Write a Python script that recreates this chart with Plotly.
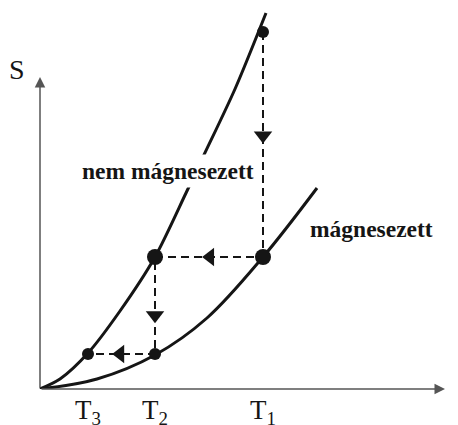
import plotly.graph_objects as go

# --- data (T, S in arbitrary diagram units) ---
T_levels = [48, 115, 223]                 # T3, T2, T1
tick_labels = ["T<sub>3</sub>", "T<sub>2</sub>", "T<sub>1</sub>"]

# "nem mágnesezett" (non-magnetised) curve
T_upper = [0, 20, 48, 80, 115, 146, 163, 195, 226]
S_upper = [0, 10, 36, 78, 132, 196, 232, 300, 376]

# "mágnesezett" (magnetised) curve
T_lower = [0, 57, 115, 167, 223, 277]
S_lower = [0, 10, 34, 71, 132, 201]

# cycle states A->B->C->D->E
T_cycle = [223, 223, 115, 115, 48]
S_cycle = [357, 132, 132, 35, 35]
dot_sizes = [12, 16, 16, 12, 12]
arrow_frac = [0.46, 0.49, 0.60, 0.52]
arrow_symbols = ["triangle-down", "triangle-left", "triangle-down", "triangle-left"]

S_axis_top = 312
T_axis_end = 405

INK = "#151515"
SERIF = "Liberation Serif, Times New Roman, serif"

fig = go.Figure()

fig.add_trace(go.Scatter(x=T_upper, y=S_upper, mode="lines",
                         line=dict(color=INK, width=3, shape="spline", smoothing=0.8),
                         hoverinfo="skip", showlegend=False))
fig.add_trace(go.Scatter(x=T_lower, y=S_lower, mode="lines",
                         line=dict(color=INK, width=3, shape="spline", smoothing=1),
                         hoverinfo="skip", showlegend=False))

# dashed cycle path
fig.add_trace(go.Scatter(x=T_cycle, y=S_cycle, mode="lines",
                         line=dict(color=INK, width=2, dash="8px,5px"),
                         hoverinfo="skip", showlegend=False))

# arrowheads on each segment
ax_, ay_ = [], []
for i, f in enumerate(arrow_frac):
    ax_.append(T_cycle[i] + f * (T_cycle[i + 1] - T_cycle[i]))
    ay_.append(S_cycle[i] + f * (S_cycle[i + 1] - S_cycle[i]))
fig.add_trace(go.Scatter(x=ax_, y=ay_, mode="markers",
                         marker=dict(symbol=arrow_symbols, size=16, color=INK, opacity=1,
                                     line=dict(width=0)),
                         hoverinfo="skip", showlegend=False))

# state dots
fig.add_trace(go.Scatter(x=T_cycle, y=S_cycle, mode="markers",
                         marker=dict(size=dot_sizes, color=INK, opacity=1, line=dict(width=0)),
                         hoverinfo="skip", showlegend=False))

annotations = [
    # axes with arrows
    dict(x=T_axis_end, y=0, ax=0, ay=0, xref="x", yref="y", axref="x", ayref="y", text="",
         showarrow=True, arrowhead=2, arrowsize=1.4, arrowwidth=1.5, arrowcolor="#555", standoff=0),
    dict(x=0, y=S_axis_top, ax=0, ay=0, xref="x", yref="y", axref="x", ayref="y", text="",
         showarrow=True, arrowhead=2, arrowsize=1.4, arrowwidth=1.5, arrowcolor="#555", standoff=0),
    dict(x=-23, y=320, text="S", showarrow=False, font=dict(family=SERIF, size=28, color=INK)),
    dict(x=411, y=-18, text="T", showarrow=False, font=dict(family=SERIF, size=28, color=INK)),
    dict(x=128, y=218, text="<b>nem mágnesezett</b>", showarrow=False, bgcolor="white", borderpad=3,
         font=dict(family=SERIF, size=23.5, color=INK)),
    dict(x=331, y=160, text="<b>mágnesezett</b>", showarrow=False,
         font=dict(family=SERIF, size=23.5, color=INK)),
]

fig.update_layout(
    width=458, height=425,
    margin=dict(l=0, r=0, t=0, b=36),
    paper_bgcolor="white", plot_bgcolor="white",
    xaxis=dict(range=[-40, 418], showgrid=False, zeroline=False, showline=False, ticks="",
               tickvals=T_levels, ticktext=tick_labels, automargin=False, ticklabelstandoff=2,
               tickfont=dict(family=SERIF, size=27, color=INK)),
    yaxis=dict(range=[0, 389], visible=False),
    annotations=annotations,
    showlegend=False,
)

fig.write_html("out.html", config={"displayModeBar": False},
               post_script="document.body.style.margin='0';document.body.style.overflow='hidden';")
